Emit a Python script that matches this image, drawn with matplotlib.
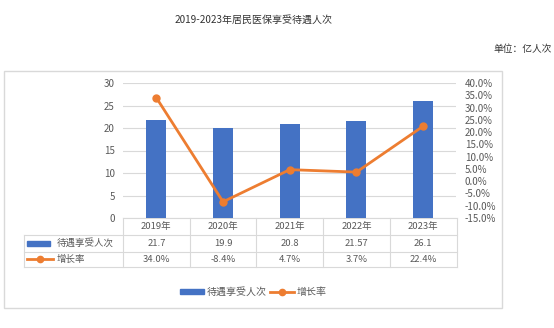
import matplotlib
matplotlib.use("Agg")
import matplotlib.pyplot as plt
from matplotlib.lines import Line2D
from matplotlib.patches import Rectangle

plt.rcParams['font.family'] = ['Noto Sans CJK SC', 'DejaVu Sans']

years = ["2019年", "2020年", "2021年", "2022年", "2023年"]
visits = [21.7, 19.9, 20.8, 21.57, 26.1]
visit_labels = ["21.7", "19.9", "20.8", "21.57", "26.1"]
growth = [34.0, -8.4, 4.7, 3.7, 22.4]
bar_name = "待遇享受人次"
line_name = "增长率"
title = "2019-2023年居民医保享受待遇人次"
unit = "单位：亿人次"

BLUE = "#4472C4"
ORANGE = "#ED7D31"
GRAY = "#595959"
GRID = "#D9D9D9"

W, H = 554, 328
fig = plt.figure(figsize=(W / 100, H / 100), dpi=100)

# pixel-space canvas for frame, table and titles
cv = fig.add_axes([0, 0, 1, 1], zorder=0)
cv.set_xlim(0, W)
cv.set_ylim(H, 0)
cv.axis("off")

# plot area in pixels
L, R, T, B = 123, 456.5, 83, 218
ax = fig.add_axes([L / W, 1 - B / H, (R - L) / W, (B - T) / H], zorder=2)
ax.patch.set_alpha(0)
n = len(years)
xs = list(range(n))
ax.bar(xs, visits, width=0.30, color=BLUE, zorder=2)
ax.set_xlim(-0.5, n - 0.5)
ax.set_ylim(0, 30)
ax.set_yticks(range(0, 31, 5))
ax.yaxis.grid(True, color=GRID, linewidth=0.8, zorder=0)
ax.set_axisbelow(True)
for s in ax.spines.values():
    s.set_visible(False)
ax.set_xticks([])
ax.tick_params(axis="y", length=0, pad=6, labelsize=7, labelcolor=GRAY)

ax2 = ax.twinx()
ax2.plot(xs, growth, color=ORANGE, linewidth=2, marker="o", markersize=5, zorder=3)
ax2.set_ylim(-15, 40)
ax2.set_yticks(range(-15, 41, 5))
ax2.set_yticklabels([f"{v:.1f}%" for v in range(-15, 41, 5)])
for s in ax2.spines.values():
    s.set_visible(False)
ax2.tick_params(axis="y", length=0, pad=6, labelsize=7, labelcolor=GRAY)

# outer frame
cv.add_patch(Rectangle((3.5, 70.5), 498, 237.5, fill=False, edgecolor=GRID, linewidth=1))

# titles
cv.text(254, 20, title, ha="center", va="center", fontsize=7.2, color="#333333")
cv.text(552, 49, unit, ha="right", va="center", fontsize=7, color="#333333")

# data table under the plot
colw = (R - L) / n
rows_y = [B, 235, 251.7, 267]
TL = 24
lc = GRID
lw = 0.8
# horizontal lines
cv.plot([L, R], [rows_y[0], rows_y[0]], color=lc, lw=lw)
for y in rows_y[1:]:
    cv.plot([TL, R], [y, y], color=lc, lw=lw)
# vertical lines
for i in range(n + 1):
    xv = L + i * colw
    cv.plot([xv, xv], [rows_y[0], rows_y[3]], color=lc, lw=lw)
cv.plot([TL, TL], [rows_y[1], rows_y[3]], color=lc, lw=lw)

fs_tab = 6.8
for i in range(n):
    cx = L + (i + 0.5) * colw
    cv.text(cx, (rows_y[0] + rows_y[1]) / 2, years[i], ha="center", va="center",
            fontsize=fs_tab, color=GRAY)
    cv.text(cx, (rows_y[1] + rows_y[2]) / 2, visit_labels[i], ha="center", va="center",
            fontsize=fs_tab, color=GRAY)
    cv.text(cx, (rows_y[2] + rows_y[3]) / 2, f"{growth[i]:.1f}%", ha="center", va="center",
            fontsize=fs_tab, color=GRAY)

# legend keys inside the table
ym1 = (rows_y[1] + rows_y[2]) / 2
ym2 = (rows_y[2] + rows_y[3]) / 2
cv.add_patch(Rectangle((27, ym1 - 2.5), 23, 5, color=BLUE))
cv.text(57, ym1, bar_name, ha="left", va="center", fontsize=fs_tab, color=GRAY)
cv.plot([27, 53], [ym2, ym2], color=ORANGE, lw=2)
cv.plot([40], [ym2], marker="o", markersize=4.5, color=ORANGE)
cv.text(57, ym2, line_name, ha="left", va="center", fontsize=fs_tab, color=GRAY)

# bottom legend
handles = [
    Rectangle((0, 0), 1, 1, color=BLUE),
    Line2D([0], [0], color=ORANGE, lw=2, marker="o", markersize=4.5),
]
fig.legend(handles, [bar_name, line_name], loc="center", ncol=2,
           bbox_to_anchor=(253 / W, 1 - 292 / H), frameon=False,
           fontsize=7.2, labelcolor=GRAY, handlelength=2.4, handleheight=0.5,
           handletextpad=0.3, columnspacing=0.3)

fig.savefig("out.png", dpi=100)
